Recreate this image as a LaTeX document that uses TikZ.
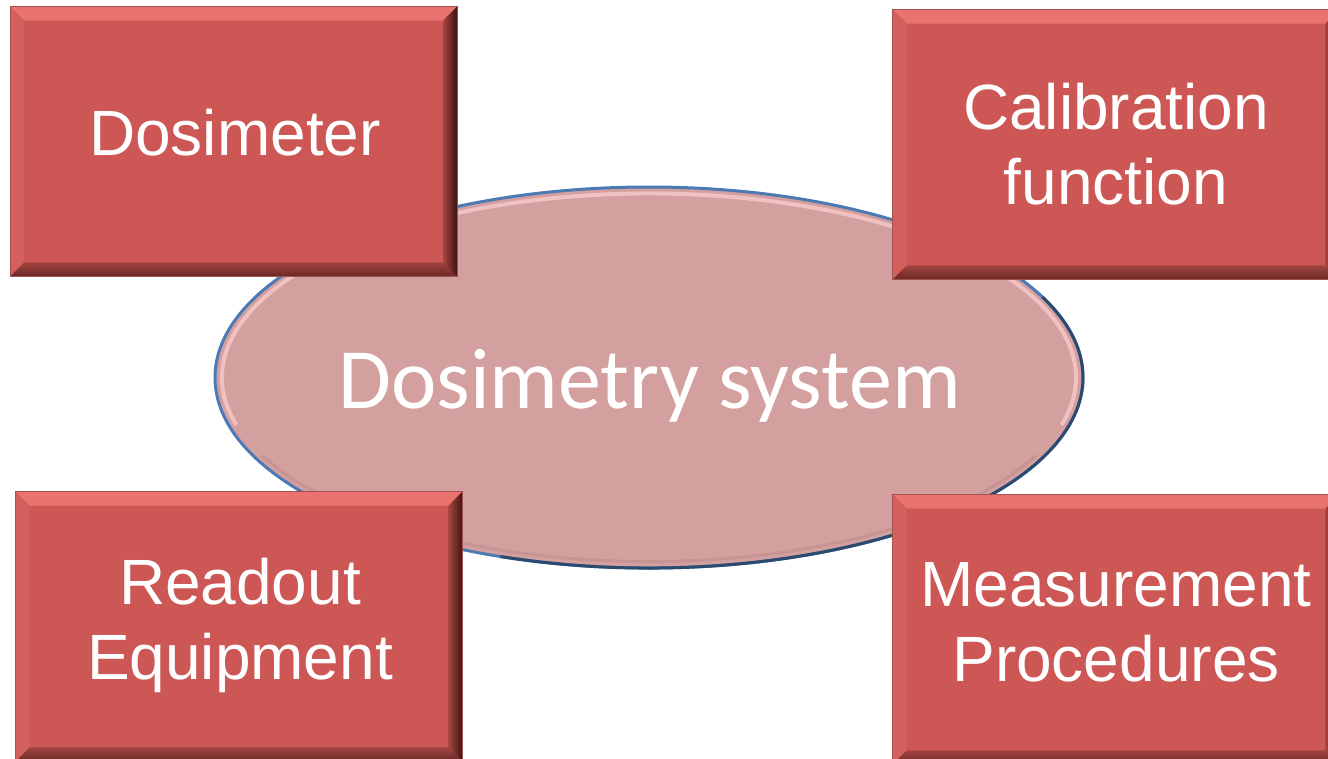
\documentclass[tikz,border=0pt]{standalone}
\usepackage{fontspec}
\setmainfont{Liberation Sans}
\newfontfamily\ellfont{Carlito}
\usetikzlibrary{calc,shapes.geometric}
\definecolor{boxfill}{HTML}{CC5754}
\definecolor{boxedge}{HTML}{A05250}
\definecolor{bevtop}{HTML}{E9746F}
\definecolor{bevleft}{HTML}{D3605C}
\definecolor{bevrin}{HTML}{A84542}
\definecolor{bevrout}{HTML}{3C1412}
\definecolor{bevbin}{HTML}{A04440}
\definecolor{bevbout}{HTML}{6A2826}
\definecolor{ellfill}{HTML}{D3A09F}
\definecolor{ellblue}{HTML}{4C7AB5}
\definecolor{elldark}{HTML}{2C4A6E}
\definecolor{ellhi}{HTML}{F6CACA}
\definecolor{elllow}{HTML}{BF8C8B}
\tikzset{
  box/.style={rectangle, fill=boxfill, draw=boxedge, line width=0.8pt,
    minimum width=446pt, minimum height=269pt, inner sep=0pt},
  lbl/.style={text=white, font=\fontsize{64}{75}\selectfont, align=center, inner sep=0pt},
  ell/.style={ellipse, fill=ellfill, draw=ellblue, line width=3pt,
    minimum width=868pt, minimum height=381pt, inner sep=0pt},
  elltext/.style={text=white, font=\ellfont\fontsize{86}{100}\selectfont, inner sep=0pt, anchor=base},
}
\newcommand{\bevelbox}[1]{%
  \fill[bevtop] (#1.north west) -- (#1.north east) -- ([shift={(-14,-14)}]#1.north east) -- ([shift={(14,-14)}]#1.north west) -- cycle;
  \fill[bevleft] (#1.north west) -- ([shift={(14,-14)}]#1.north west) -- ([shift={(14,14)}]#1.south west) -- (#1.south west) -- cycle;
  \shade[left color=bevrin, right color=bevrout] (#1.north east) -- (#1.south east) -- ([shift={(-14,14)}]#1.south east) -- ([shift={(-14,-14)}]#1.north east) -- cycle;
  \shade[top color=bevbin, bottom color=bevbout] (#1.south west) -- ([shift={(14,14)}]#1.south west) -- ([shift={(-14,14)}]#1.south east) -- (#1.south east) -- cycle;
  \draw[boxedge, line width=0.8pt] (#1.north west) rectangle (#1.south east);
}
\begin{document}
\begin{tikzpicture}[x=1pt,y=1pt]
\useasboundingbox (0,0) rectangle (1328,-758);
% central ellipse
\node[ell] (sys) at (649,-377.5) {};
\draw[ellhi, line width=4pt, opacity=0.8]
  ($(sys.center)+(195:427pt and 184pt)$) arc[start angle=195, end angle=-15, x radius=427pt, y radius=184pt];
\draw[elllow, line width=3pt, opacity=0.6]
  ($(sys.center)+(205:427pt and 184pt)$) arc[start angle=205, end angle=335, x radius=427pt, y radius=184pt];
\draw[elldark, line width=3pt]
  ($(sys.center)+(-110:434pt and 190.5pt)$) arc[start angle=-110, end angle=25, x radius=434pt, y radius=190.5pt];
\node[elltext] (systxt) at (649.5,-408) {Dosimetry system};
% boxes
\node[box] (dos) at (233.5,-141.5) {};
\bevelbox{dos}
\node[lbl] (dostxt) at (235,-133) {Dosimeter};
\node[box] (cal) at (1116,-144.5) {};
\bevelbox{cal}
\node[lbl] (caltxt) at (1116,-144) {Calibration\\function};
\node[box] (read) at (239,-626.5) {};
\bevelbox{read}
\node[lbl] (readtxt) at (240,-625) {Readout\\Equipment};
\node[box] (meas) at (1116,-629.5) {};
\bevelbox{meas}
\node[lbl] (meastxt) at (1116,-622.5) {Measurement\\Procedures};
\end{tikzpicture}
\end{document}
